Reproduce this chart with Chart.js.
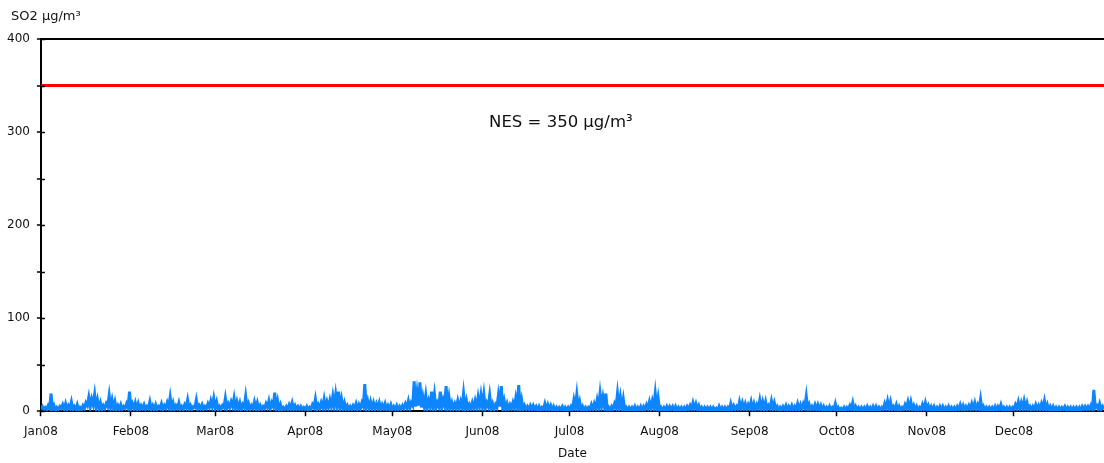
<!DOCTYPE html>
<html>
<head>
<meta charset="utf-8">
<title>SO2 2008</title>
<script src="https://cdn.jsdelivr.net/npm/chart.js@4/dist/chart.umd.min.js"></script>
<style>
  html, body { margin: 0; padding: 0; background: #fff; }
  #wrap { width: 1104px; height: 463px; }
</style>
</head>
<body>
<div id="wrap"><canvas id="c" width="1104" height="463"></canvas></div>
<script>
// Hourly SO2 record for 2008, reduced to a daily peak and a daily low (µg/m³).
const monthLabels = ['Jan08','Feb08','Mar08','Apr08','May08','Jun08','Jul08','Aug08','Sep08','Oct08','Nov08','Dec08'];
const monthStartDay = [0, 31, 60, 91, 121, 152, 182, 213, 244, 274, 305, 335];
const daysInYear = 366;

const yTickLabels = [0, 100, 200, 300, 400];
const nesLimit = 350;
const nesText = 'NES = 350 µg/m³';

const dailyPeak = [
  5,4,6,19,6,4,5,7,8,6,10,5,7,4,6,9,15,13,18,12,9,6,8,17,12,10,6,7,5,8,21,          // Jan
  8,9,8,6,7,5,10,6,7,5,8,6,9,15,9,6,9,5,7,12,6,5,12,6,7,5,8,11,14,                  // Feb
  10,5,6,14,8,10,14,10,9,7,16,8,6,10,9,6,5,8,11,9,20,11,7,4,5,7,9,6,5,5,4,          // Mar
  5,4,7,13,7,9,13,10,12,16,18,21,13,9,6,5,6,8,7,9,29,11,10,9,8,9,7,8,6,7,           // Apr
  5,6,5,6,8,11,9,32,20,31,15,17,11,21,18,9,21,12,27,15,9,8,11,10,19,11,7,9,11,15,17, // May
  18,9,17,8,7,17,27,11,8,7,9,14,28,12,6,5,6,6,5,5,4,8,7,6,5,4,4,5,4,4,              // Jun
  5,12,18,10,5,4,4,7,8,12,19,15,19,4,5,8,19,15,13,4,4,4,5,4,5,5,7,10,11,19,14,       // Jul
  4,4,5,5,5,5,4,4,4,5,6,9,8,6,4,4,4,4,4,3,5,4,4,4,8,6,5,10,9,8,7,                   // Aug
  10,8,7,12,10,10,6,11,9,5,4,5,6,5,6,5,8,7,8,16,7,5,7,7,6,5,4,5,4,8,                // Sep
  4,3,4,4,6,9,5,4,4,4,5,4,5,5,4,4,8,11,10,5,7,5,4,7,10,10,6,5,4,7,9,                // Oct
  6,5,5,4,5,5,4,5,4,4,5,7,6,5,6,8,9,7,13,5,4,4,4,5,5,7,4,4,4,4,                     // Nov
  7,10,9,11,9,5,5,7,6,8,11,7,5,5,4,4,4,5,4,4,4,4,4,5,5,5,6,23,6,8,5                 // Dec
];

const dailyLow = [
  2,2,2,3,2,1,2,3,2,2,3,2,2,1,2,3,6,5,7,4,3,2,3,5,4,3,2,2,2,3,4,   // Jan
  3,3,2,2,3,2,3,2,2,2,3,2,3,4,3,2,3,2,2,4,2,2,4,2,3,2,3,4,5,       // Feb
  4,2,2,4,3,4,5,3,3,2,4,3,2,3,3,2,2,3,4,3,5,3,2,1,2,2,3,2,2,2,2,   // Mar
  2,1,2,4,2,3,4,3,4,5,5,6,4,3,2,2,2,3,2,3,5,4,3,3,3,3,2,3,2,2,     // Apr
  2,2,2,2,3,4,3,6,5,6,4,5,3,5,5,3,5,4,6,4,3,3,3,3,4,3,2,3,3,4,5,   // May
  5,3,5,3,2,4,5,3,2,2,3,3,5,3,2,2,2,2,2,1,1,2,2,2,1,1,1,2,1,1,     // Jun
  1,2,4,3,1,1,1,2,2,3,4,5,5,1,1,2,4,4,3,1,1,1,1,1,1,1,2,3,3,4,3,   // Jul
  1,1,1,1,2,1,1,1,1,1,2,2,3,2,1,1,1,1,1,1,0,1,1,1,1,2,2,2,3,3,2,   // Aug
  3,2,2,3,3,3,2,3,3,2,1,1,2,1,2,1,2,2,2,4,2,1,2,2,2,1,1,1,1,2,     // Sep
  1,1,1,1,2,2,1,1,1,1,1,1,1,1,1,1,2,3,3,2,2,1,1,2,3,3,2,1,1,2,2,   // Oct
  2,1,1,1,1,1,1,1,1,1,1,2,2,1,2,2,3,2,3,1,1,1,1,1,1,2,1,1,1,1,     // Nov
  2,3,3,3,3,2,1,2,2,2,3,2,1,1,1,1,1,2,1,1,1,1,1,1,2,2,2,2,4,2,2    // Dec
];

// Low at the start of each day, peak around midday.
const so2Points = [];
dailyPeak.forEach((peak, d) => {
  so2Points.push({ x: d, y: dailyLow[d] });
  so2Points.push({ x: d + 0.5, y: peak });
});
so2Points.push({ x: daysInYear, y: dailyLow[daysInYear - 1] });

const FONT = 'DejaVu Sans, Verdana, sans-serif';
const INK = '#111';

// Y tick marks cross the axis: draw the inner half over the plot.
const innerTicks = {
  id: 'innerTicks',
  afterDraw(chart) {
    const { ctx, scales: { y } } = chart;
    ctx.save();
    ctx.strokeStyle = '#000';
    ctx.lineWidth = 1.5;
    y.ticks.forEach(t => {
      const py = Math.round(y.getPixelForValue(t.value)) + 0.5;
      ctx.beginPath();
      ctx.moveTo(y.right, py);
      ctx.lineTo(y.right + 4, py);
      ctx.stroke();
    });
    ctx.restore();
  }
};

// Axis caption above the y axis and the limit label under the red line.
const captions = {
  id: 'captions',
  afterDraw(chart) {
    const { ctx, scales: { x, y } } = chart;
    ctx.save();
    ctx.fillStyle = INK;
    ctx.textBaseline = 'middle';
    ctx.font = '13px ' + FONT;
    ctx.textAlign = 'left';
    ctx.fillText('SO2 µg/m³', 11, 17);
    ctx.font = '16.5px ' + FONT;
    ctx.textAlign = 'center';
    ctx.fillText(nesText, x.getPixelForValue(179), y.getPixelForValue(nesLimit) + 37);
    ctx.restore();
  }
};

new Chart(document.getElementById('c'), {
  type: 'line',
  data: {
    datasets: [
      {
        label: 'SO2',
        data: so2Points,
        borderColor: '#0d85ff',
        borderWidth: 3,
        pointRadius: 0,
        tension: 0,
        fill: false,
        order: 2
      },
      {
        label: 'NES',
        data: [{ x: 0, y: nesLimit }, { x: daysInYear, y: nesLimit }],
        borderColor: '#ff0000',
        borderWidth: 3,
        pointRadius: 0,
        fill: false,
        order: 1
      }
    ]
  },
  options: {
    responsive: false,
    animation: false,
    events: [],
    layout: { padding: { top: 39, left: 0, right: 0, bottom: 0 } },
    plugins: {
      legend: { display: false },
      tooltip: { enabled: false },
      title: { display: false }
    },
    scales: {
      x: {
        type: 'linear',
        min: 0,
        max: daysInYear,
        afterBuildTicks(scale) {
          scale.ticks = monthStartDay.map(v => ({ value: v }));
        },
        ticks: {
          autoSkip: false,
          maxRotation: 0,
          padding: 8,
          color: INK,
          font: { family: FONT, size: 12 },
          callback: (v, i) => monthLabels[i]
        },
        grid: {
          drawOnChartArea: false,
          tickLength: 5,
          tickColor: '#000',
          tickWidth: 1.5
        },
        border: { color: '#000', width: 2 },
        title: {
          display: true,
          text: 'Date',
          color: INK,
          font: { family: FONT, size: 12 },
          padding: { top: 0, bottom: 2 }
        }
      },
      y: {
        min: 0,
        max: 400,
        ticks: {
          stepSize: 50,
          padding: 7,
          color: INK,
          font: { family: FONT, size: 12 },
          callback: v => (yTickLabels.includes(v) ? String(v) : '')
        },
        grid: {
          drawOnChartArea: true,
          color: c => (c.tick && c.tick.value === 400 ? '#000' : 'rgba(0,0,0,0)'),
          lineWidth: c => (c.tick && c.tick.value === 400 ? 2 : 0),
          tickLength: 4,
          tickColor: '#000',
          tickWidth: 1.5
        },
        border: { color: '#000', width: 2 }
      }
    }
  },
  plugins: [innerTicks, captions]
});
</script>
</body>
</html>
